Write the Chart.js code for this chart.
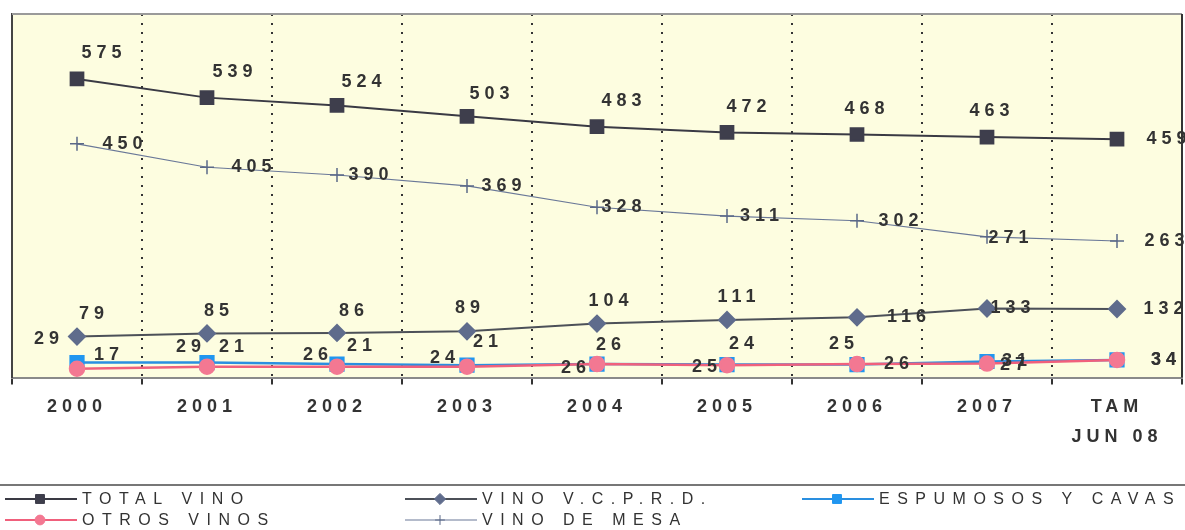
<!DOCTYPE html>
<html lang="es">
<head>
<meta charset="UTF-8">
<title>Consumo de vino</title>
<script src="https://cdn.jsdelivr.net/npm/chart.js"></script>
<style>
  html, body { margin: 0; background: #fff; overflow: hidden; }
  #wrap { width: 1185px; height: 530px; position: relative; }
  canvas { display: block; }
</style>
</head>
<body>
<div id="wrap"><canvas id="chart"></canvas></div>
<script>
// datos
const categories = ['2000', '2001', '2002', '2003', '2004', '2005', '2006', '2007', ['TAM', 'JUN 08']];
const totalVino = [575, 539, 524, 503, 483, 472, 468, 463, 459];
const vinoVcprd = [79, 85, 86, 89, 104, 111, 116, 133, 132];
const espumosos = [29, 29, 26, 24, 26, 25, 25, 31, 34];
const otrosVinos = [17, 21, 21, 21, 26, 24, 26, 27, 34];
const vinoMesa = [450, 405, 390, 369, 328, 311, 302, 271, 263];

const FONT = '"Liberation Sans", Arial, sans-serif';

// desplazamiento de cada etiqueta respecto a su punto
const offTotal = [[25, -26], [26, -26], [25, -23], [23, -22], [25, -26], [20, -25], [8, -25], [3, -26], [50, 0]];
const offVcprd = [[15, -23], [10, -22], [15, -22], [1, -23], [12, -23], [10, -23], [50, 0], [24, 0], [47, 0]];
const offMesa = [[46, 0], [45, 0], [32, 0], [35, 0], [25, 0], [33, 0], [42, 0], [22, 1], [48, 0]];
const offEsp = [[-30, -24], [-18, -16], [-21, -9], [-24, -7], [-23, 4], [-22, 2], [-15, -21], [28, 0], [47, 0]];
const offOtros = [[30, -14], [25, -20], [23, -21], [19, -25], [12, -19], [15, -21], [40, 0], [26, 1], [47, 0]];

const plotFrame = {
    id: 'plotFrame',
    beforeDraw(chart) {
        const a = chart.chartArea, ctx = chart.ctx;
        ctx.save();
        ctx.fillStyle = '#fdfde0';
        ctx.fillRect(a.left, a.top, a.right - a.left, a.bottom - a.top);
        ctx.restore();
        ctx.letterSpacing = '5px';
    },
    afterDraw(chart) {
        const a = chart.chartArea, ctx = chart.ctx;
        ctx.save();
        ctx.lineWidth = 2;
        ctx.strokeStyle = '#9a9a9a';
        ctx.beginPath(); ctx.moveTo(a.left, a.top); ctx.lineTo(a.right, a.top); ctx.stroke();
        ctx.strokeStyle = '#333';
        ctx.beginPath(); ctx.moveTo(a.right, a.top); ctx.lineTo(a.right, a.bottom); ctx.stroke();
        ctx.restore();
    }
};

const pointLabels = {
    id: 'pointLabels',
    afterDatasetsDraw(chart) {
        const ctx = chart.ctx;
        ctx.save();
        ctx.font = 'bold 18px ' + FONT;
        ctx.letterSpacing = '5px';
        ctx.fillStyle = '#333';
        ctx.textAlign = 'center';
        ctx.textBaseline = 'middle';
        chart.data.datasets.forEach((ds, i) => {
            const meta = chart.getDatasetMeta(i);
            meta.data.forEach((pt, j) => {
                const o = ds.labelOffsets[j];
                ctx.fillText(String(ds.data[j]), pt.x + o[0] + 2, pt.y + o[1]);
            });
        });
        ctx.restore();
    }
};

const legendOrder = [0, 1, 2, 3, 4];
const legendBox = {
    id: 'legendBox',
    afterDraw(chart) {
        const ctx = chart.ctx;
        const cols = [5, 405, 802];
        const rows = [499, 520];
        ctx.save();
        ctx.strokeStyle = '#777';
        ctx.lineWidth = 2;
        ctx.beginPath(); ctx.moveTo(0, 485); ctx.lineTo(chart.width, 485); ctx.stroke();
        legendOrder.forEach((idx, k) => {
            const ds = chart.data.datasets[idx];
            const x = cols[k % 3], y = rows[Math.floor(k / 3)];
            ctx.strokeStyle = ds.borderColor;
            ctx.lineWidth = Math.min(ds.borderWidth, 2);
            ctx.beginPath(); ctx.moveTo(x, y); ctx.lineTo(x + 72, y); ctx.stroke();
            ctx.fillStyle = ds.pointBackgroundColor;
            ctx.strokeStyle = ds.pointBorderColor;
            ctx.lineWidth = 1;
            Chart.helpers.drawPoint(ctx, {
                pointStyle: ds.pointStyle, radius: ds.pointRadius * 0.7, borderWidth: 1
            }, x + 35, y);
            ctx.font = '16px ' + FONT;
            ctx.letterSpacing = '7.5px';
            ctx.fillStyle = '#333';
            ctx.textBaseline = 'middle';
            ctx.fillText(ds.label, x + 77, y + 1);
        });
        ctx.restore();
    }
};

new Chart(document.getElementById('chart'), {
    type: 'line',
    data: {
        labels: categories,
        datasets: [
            {
                label: 'TOTAL VINO', data: totalVino, labelOffsets: offTotal,
                borderColor: '#3a3a44', borderWidth: 2,
                pointStyle: 'rect', pointRadius: 9,
                pointBackgroundColor: '#3e3e4c', pointBorderColor: '#3e3e4c', order: 1
            },
            {
                label: 'VINO V.C.P.R.D.', data: vinoVcprd, labelOffsets: offVcprd,
                borderColor: '#4c5058', borderWidth: 2,
                pointStyle: 'rectRot', pointRadius: 8,
                pointBackgroundColor: '#5f6c8c', pointBorderColor: '#5f6c8c', order: 2
            },
            {
                label: 'ESPUMOSOS Y CAVAS', data: espumosos, labelOffsets: offEsp,
                borderColor: '#2a8fe0', borderWidth: 2.5,
                pointStyle: 'rect', pointRadius: 9,
                pointBackgroundColor: '#2196f0', pointBorderColor: '#2196f0', order: 4
            },
            {
                label: 'OTROS VINOS', data: otrosVinos, labelOffsets: offOtros,
                borderColor: '#f0607c', borderWidth: 2.5,
                pointStyle: 'circle', pointRadius: 7,
                pointBackgroundColor: '#f37892', pointBorderColor: '#f37892', order: 3
            },
            {
                label: 'VINO DE MESA', data: vinoMesa, labelOffsets: offMesa,
                borderColor: '#6a7898', borderWidth: 1.2,
                pointStyle: 'cross', pointRadius: 7, pointBorderWidth: 1.5,
                pointBackgroundColor: '#5a6888', pointBorderColor: '#5a6888', order: 5
            }
        ]
    },
    options: {
        responsive: true,
        maintainAspectRatio: false,
        animation: false,
        layout: { autoPadding: false, padding: { left: 12, top: 14, right: 3, bottom: 70 } },
        plugins: {
            legend: { display: false },
            tooltip: { enabled: false }
        },
        elements: { line: { tension: 0 } },
        scales: {
            x: {
                offset: true,
                afterFit(scale) { scale.paddingLeft = 0; scale.paddingRight = 0; },
                border: { display: true, color: '#8a8a8a', width: 2, dash: [2, 7] },
                grid: {
                    offset: true, color: '#333', lineWidth: 2, tickLength: 7,
                    tickColor: '#333', tickBorderDash: [], tickWidth: 2
                },
                ticks: {
                    color: '#333', padding: 8,
                    font: { family: FONT, size: 18, weight: 'bold', lineHeight: 1.65 },
                    maxRotation: 0, autoSkip: false
                }
            },
            y: {
                min: 0, max: 700,
                border: { display: true, color: '#444', width: 2 },
                grid: { display: false, drawTicks: false },
                ticks: { display: false }
            }
        }
    },
    plugins: [plotFrame, pointLabels, legendBox]
});
</script>
</body>
</html>
